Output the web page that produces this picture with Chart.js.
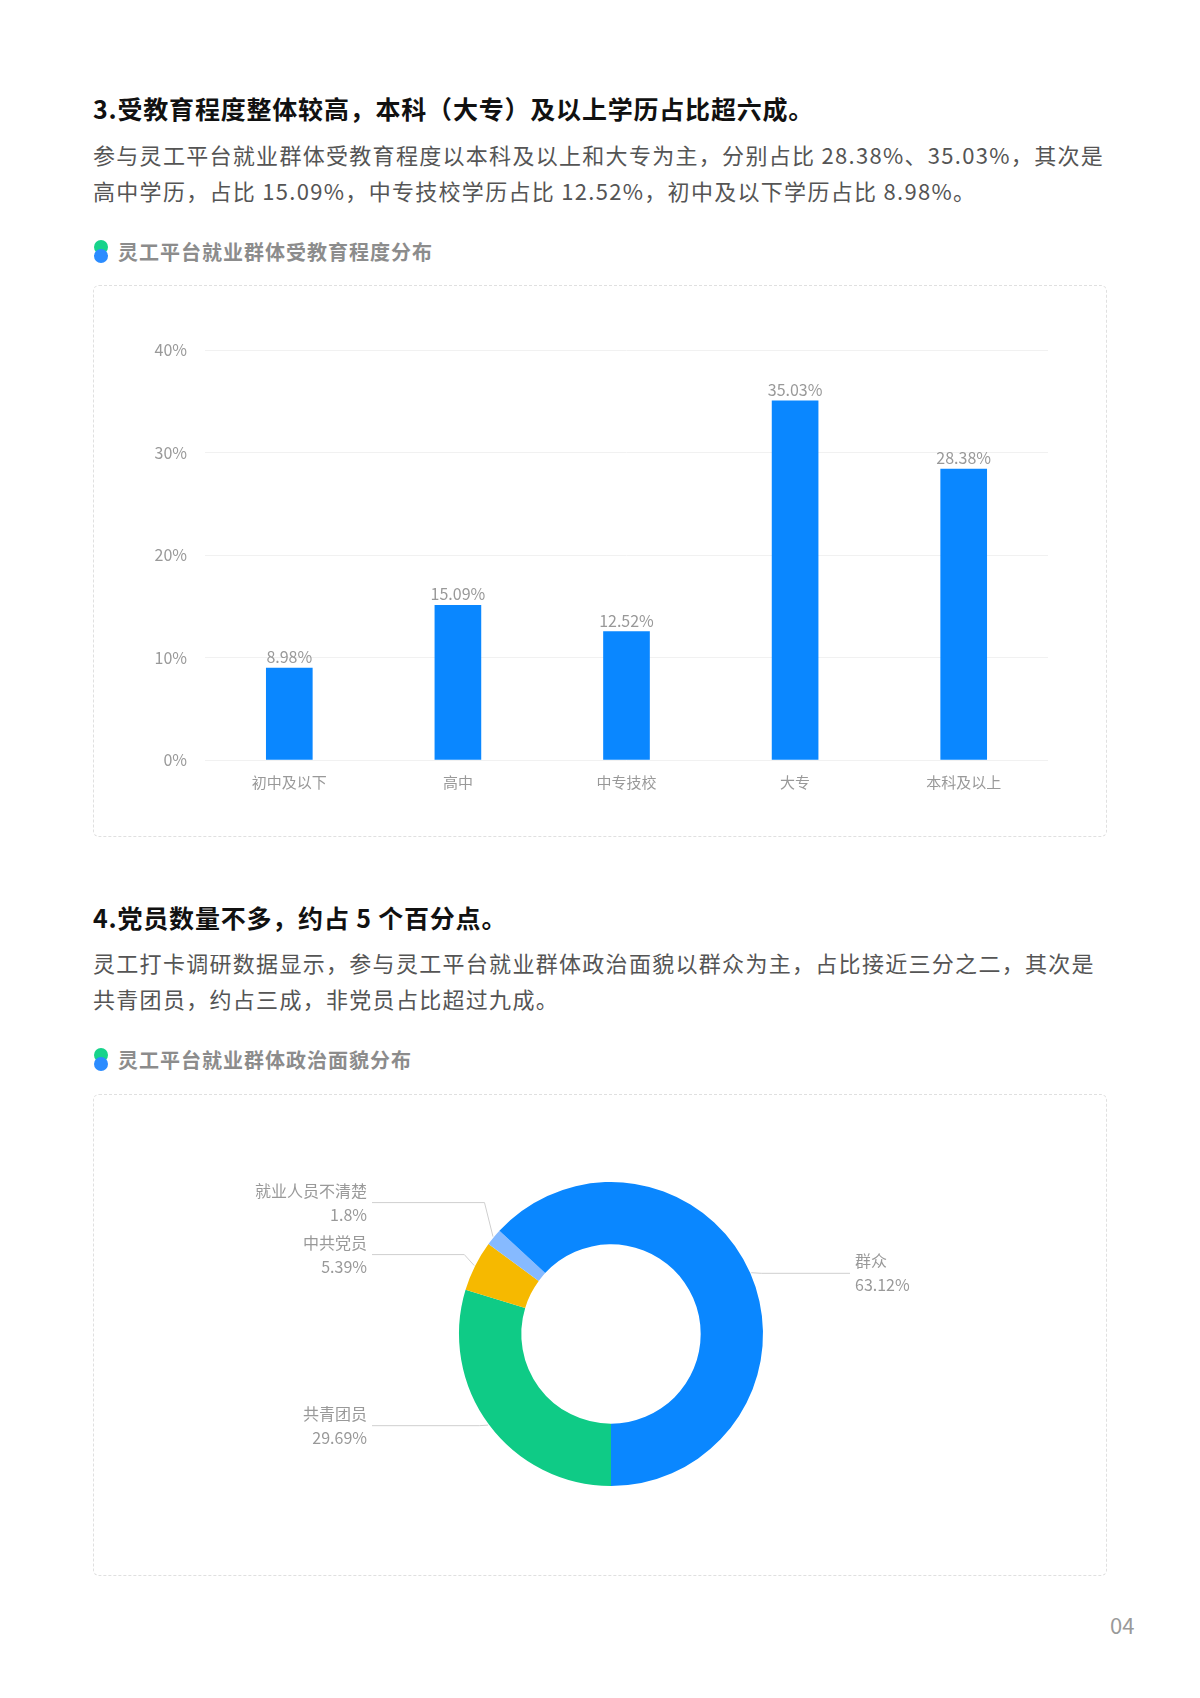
<!DOCTYPE html>
<html>
<head>
<meta charset="utf-8">
<script src="https://cdn.jsdelivr.net/npm/chart.js@4"></script>
<style>
  body { margin: 0; width: 1200px; height: 1698px; background: #fff; font-family: "Noto Sans CJK SC", "Noto Sans", sans-serif; position: relative; }
  .h { position: absolute; left: 93px; font-size: 25px; font-weight: 700; color: #111; margin: 0; line-height: 32px; letter-spacing: 0.8px; white-space: nowrap; }
  .p { position: absolute; left: 93px; width: 1060px; font-size: 22px; line-height: 36px; color: #555; margin: 0; letter-spacing: 1.3px; white-space: nowrap; }
  .sub { position: absolute; left: 93px; font-size: 20px; font-weight: 700; color: #8c8c8c; line-height: 26px; letter-spacing: 1px; }
  .sub i { display: inline-block; position: relative; width: 16px; height: 26px; vertical-align: top; margin-right: 9px; }
  .sub i:before, .sub i:after { content: ""; position: absolute; left: 1px; width: 14px; height: 14px; border-radius: 50%; }
  .sub i:before { top: 1px; background: #17d38b; }
  .sub i:after { top: 10px; background: #2b8cff; }
  .box { position: absolute; left: 93px; width: 1012px; border: 1.5px dashed #e0e0e0; border-radius: 6px; }
  .box canvas { position: absolute; left: 0; top: 0; }
  .pg { position: absolute; left: 1110px; top: 1608px; font-size: 22px; color: #999; }
</style>
</head>
<body>
<h1 class="h" style="top:92px">3.受教育程度整体较高，本科（大专）及以上学历占比超六成。</h1>
<p class="p" style="top:136px">参与灵工平台就业群体受教育程度以本科及以上和大专为主，分别占比 28.38%、35.03%，其次是<br>高中学历，占比 15.09%，中专技校学历占比 12.52%，初中及以下学历占比 8.98%。</p>
<div class="sub" style="top:239px"><i></i>灵工平台就业群体受教育程度分布</div>
<div class="box" style="top:285px;height:550px"><canvas id="eduChart"></canvas></div>

<h1 class="h" style="top:901px">4.党员数量不多，约占 5 个百分点。</h1>
<p class="p" style="top:944px">灵工打卡调研数据显示，参与灵工平台就业群体政治面貌以群众为主，占比接近三分之二，其次是<br>共青团员，约占三成，非党员占比超过九成。</p>
<div class="sub" style="top:1047px"><i></i>灵工平台就业群体政治面貌分布</div>
<div class="box" style="top:1094px;height:480px"><canvas id="partyChart"></canvas></div>

<div class="pg">04</div>

<script>
const eduLabels = ['初中及以下', '高中', '中专技校', '大专', '本科及以上'];
const eduValues = [8.98, 15.09, 12.52, 35.03, 28.38];
const eduMax = 40;
const eduStep = 10;

const partyLabels = ['共青团员', '中共党员', '就业人员不清楚', '群众'];
const partyValues = [29.69, 5.39, 1.8, 63.12];
const partyColors = ['#0fcb86', '#f6b900', '#86baff', '#0a87ff'];

const fontFamily = '"Noto Sans CJK SC", "Noto Sans", sans-serif';

function setupCanvas(id, w, h) {
    const c = document.getElementById(id);
    c.style.width = w + 'px';
    c.style.height = h + 'px';
    c.width = w;
    c.height = h;
    return c;
}

// value labels above the bars
const barValuePlugin = {
    id: 'barValues',
    afterDatasetsDraw(chart) {
        const ctx = chart.ctx;
        const meta = chart.getDatasetMeta(0);
        ctx.save();
        ctx.font = '16px ' + fontFamily;
        ctx.fillStyle = '#999';
        ctx.textAlign = 'center';
        ctx.textBaseline = 'bottom';
        meta.data.forEach((bar, i) => {
            ctx.fillText(eduValues[i] + '%', bar.x, bar.y - 3);
        });
        ctx.restore();
    }
};

const eduCanvas = setupCanvas('eduChart', 1012, 550);
new Chart(eduCanvas, {
    type: 'bar',
    data: {
        labels: eduLabels,
        datasets: [{
            data: eduValues,
            backgroundColor: '#0a87ff',
            barThickness: 46
        }]
    },
    options: {
        responsive: false,
        animation: false,
        layout: { padding: { left: 0, right: 58, top: 64, bottom: 36 } },
        plugins: { legend: { display: false }, tooltip: { enabled: false } },
        scales: {
            x: {
                grid: { display: false },
                border: { display: false },
                ticks: { color: '#999', font: { size: 15, family: fontFamily }, padding: 5 },
                afterFit(scale) { scale.height = 40; }
            },
            y: {
                min: 0,
                max: eduMax,
                ticks: {
                    stepSize: eduStep,
                    color: '#999',
                    font: { size: 16, family: fontFamily },
                    padding: 18,
                    callback: v => v + '%'
                },
                grid: { color: '#f1f1f1', drawTicks: false },
                border: { display: false },
                afterFit(scale) { scale.width = 111; }
            }
        }
    },
    plugins: [barValuePlugin]
});

// callout labels for the doughnut
const calloutPlugin = {
    id: 'callouts',
    afterDatasetsDraw(chart) {
        const ctx = chart.ctx;
        const meta = chart.getDatasetMeta(0);
        const items = meta.data.map((arc, i) => {
            const mid = (arc.startAngle + arc.endAngle) / 2;
            const R = arc.outerRadius;
            const cos = Math.cos(mid), sin = Math.sin(mid);
            return {
                i,
                left: cos < 0,
                cx: arc.x,
                R,
                px: arc.x + cos * (R + 1),
                py: arc.y + sin * (R + 1),
                ex: arc.x + cos * (R + 12),
                ly: arc.y + sin * (R + 12) + (cos < 0 ? -6 : 5)
            };
        });
        // keep labels on each side apart
        [true, false].forEach(side => {
            const list = items.filter(it => it.left === side).sort((a, b) => b.ly - a.ly);
            for (let k = 1; k < list.length; k++) {
                if (list[k].ly > list[k - 1].ly - 52) list[k].ly = list[k - 1].ly - 52;
            }
        });
        ctx.save();
        ctx.font = '16px ' + fontFamily;
        ctx.textBaseline = 'middle';
        items.forEach(it => {
            const textX = it.left ? it.cx - it.R - 92 : it.cx + it.R + 92;
            const endX = it.left ? textX + 5 : textX - 5;
            ctx.strokeStyle = '#cfcfcf';
            ctx.lineWidth = 1;
            ctx.beginPath();
            ctx.moveTo(it.px, it.py);
            ctx.lineTo(it.ex, it.ly);
            ctx.lineTo(endX, it.ly);
            ctx.stroke();
            ctx.fillStyle = '#999';
            ctx.textAlign = it.left ? 'right' : 'left';
            ctx.fillText(partyLabels[it.i], textX, it.ly - 12);
            ctx.fillText(partyValues[it.i] + '%', textX, it.ly + 12);
        });
        ctx.restore();
    }
};

const partyCanvas = setupCanvas('partyChart', 1012, 480);
new Chart(partyCanvas, {
    type: 'doughnut',
    data: {
        labels: partyLabels,
        datasets: [{
            data: partyValues,
            backgroundColor: partyColors,
            borderWidth: 0
        }]
    },
    options: {
        responsive: false,
        animation: false,
        rotation: 180,
        cutout: '59%',
        layout: { padding: { left: 365, right: 343, top: 87, bottom: 89 } },
        plugins: { legend: { display: false }, tooltip: { enabled: false } }
    },
    plugins: [calloutPlugin]
});
</script>
</body>
</html>
